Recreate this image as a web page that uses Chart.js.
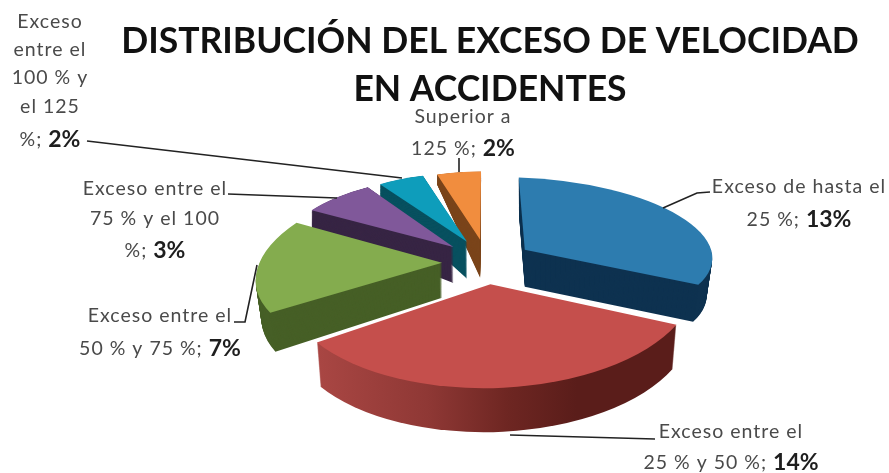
<!DOCTYPE html>
<html><head><meta charset="utf-8">
<style>html,body{margin:0;padding:0;background:#fff}canvas{display:block;filter:blur(.5px)}</style>
<script src="https://cdn.jsdelivr.net/npm/chart.js@4"></script>
</head><body><canvas id="c" width="889" height="473"></canvas>
<script>
const titleLines = ['DISTRIBUCIÓN DEL EXCESO DE VELOCIDAD', 'EN ACCIDENTES'];
const categories = [
  ['Exceso de hasta el', '25 %'],
  ['Exceso entre el', '25 % y 50 %'],
  ['Exceso entre el', '50 % y 75 %'],
  ['Exceso entre el', '75 % y el 100', '%'],
  ['Exceso', 'entre el', '100 % y', 'el 125', '%'],
  ['Superior a', '125 %']
];
const values = [13, 14, 7, 3, 2, 2];
const topColors = ['#2D7CAF', '#C54F4C', '#84AC4E', '#80589A', '#0E9DBB', '#F18D3E'];
const wallColors = ['#0E3250', '#5A1D1A', '#465F26', '#372544', '#07505F', '#7A441A'];

// drawing style tables
const explode = 180;             // Chart.js divides this by 4
const tilt = 0.5;
const shiftX = -3;
const shape = [
  {a:1.03, b:.033, c:.034, d:.396, depth:37, grow:1,    growX:.97},
  {a:1.127,b:-.015,c:-.012,d:.57,  depth:44, grow:1,    growX:.98},
  {a:1.008,b:-.18, c:-.013,d:.484, depth:35, grow:1.08, growX:.97},
  {a:.929, b:-.078,c:.019, d:.388, depth:36, grow:1.5,  growX:1},
  {a:.854, b:-.016,c:.015, d:.376, depth:37, grow:1.37, growX:1},
  {a:.80,  b:-.005,c:.005, d:.374, depth:38, grow:1.43, growX:1}
];
const drawOrder = [5, 4, 3, 0, 2, 1];
const labelStyle = [
  {x:799, y:[187,220]},
  {x:731, y:[432,463]},
  {x:160, y:[316,349]},
  {x:155, y:[189,219,251]},
  {x:50,  y:[22,50,78,107,140]},
  {x:463, y:[117,149]}
];
const leaders = [
  [[663,208],[697,193],[710,192]],
  [[510,435],[655,439]],
  [[257,265],[245,322],[234,322]],
  [[337,198],[228,194]],
  [[402,178],[87,141]],
  [[459,158],[459,172]]
];

const pie3d = {
  id: 'pie3d',
  beforeDatasetDraw(chart) {
    const ctx = chart.ctx, els = chart.getDatasetMeta(0).data;
    const grad = ctx.createLinearGradient(els[0].x - 180, 0, els[0].x + 180, 0);
    grad.addColorStop(0, '#B04A47'); grad.addColorStop(.35, '#8F3835');
    grad.addColorStop(.55, '#6E2622'); grad.addColorStop(.72, '#5A1D1A'); grad.addColorStop(1, '#5A1D1A');
    for (const i of drawOrder) {
      const el = els[i], s = shape[i];
      const mid = (el.startAngle + el.endAngle) / 2, off = el.options.offset / 4;
      const ax = el.x + shiftX + Math.cos(mid) * off, ay = el.y + Math.sin(mid) * off * tilt;
      const paint = (drop, g, gx, color) => {
        const p = Object.create(el);
        p.options = Object.assign({}, el.options, {offset: 0, backgroundColor: color, borderWidth: 0});
        ctx.save();
        ctx.translate(ax, ay + drop);
        ctx.transform(s.a * gx, s.c * g, s.b * gx, s.d * g, 0, 0);
        ctx.translate(-el.x, -el.y);
        p.draw(ctx);
        ctx.restore();
      };
      const wall = i === 1 ? grad : wallColors[i];
      for (let k = s.depth; k >= 1; k--) {
        const t = k / s.depth;
        paint(k, 1 + (s.grow - 1) * t, 1 + (s.growX - 1) * t, wall);
      }
      paint(0, 1, 1, topColors[i]);
    }
    return false;
  },
  afterDatasetsDraw(chart) {
    const ctx = chart.ctx;
    ctx.save();
    ctx.strokeStyle = '#222'; ctx.lineWidth = 1.6;
    for (const l of leaders) {
      ctx.beginPath();
      l.forEach((p, i) => i ? ctx.lineTo(p[0], p[1]) : ctx.moveTo(p[0], p[1]));
      ctx.stroke();
    }
    ctx.textBaseline = 'middle';
    const reg = '19.5px Lato', bold = 'bold 23px Lato';
    categories.forEach((lines, i) => {
      const st = labelStyle[i];
      lines.forEach((ln, j) => {
        const last = j === lines.length - 1;
        const a = last ? ln + '; ' : ln, b = last ? values[i] + '%' : '';
        ctx.letterSpacing = '1px';
        ctx.font = reg; const wa = ctx.measureText(a).width;
        ctx.letterSpacing = '0px';
        ctx.font = bold; const wb = b ? ctx.measureText(b).width : 0;
        let x = st.x - (wa + wb) / 2;
        ctx.textAlign = 'left';
        ctx.letterSpacing = '1px';
        ctx.font = reg; ctx.fillStyle = '#4a4a4a'; ctx.fillText(a, x, st.y[j]);
        ctx.letterSpacing = '0px';
        if (b) { ctx.font = bold; ctx.fillStyle = '#1e1e1e'; ctx.fillText(b, x + wa, st.y[j]); }
      });
    });
    ctx.restore();
  }
};

new Chart(document.getElementById('c'), {
  type: 'pie',
  data: {
    labels: categories,
    datasets: [{data: values, backgroundColor: topColors, borderWidth: 0, offset: explode}]
  },
  plugins: [pie3d],
  options: {
    responsive: false,
    animation: false,
    radius: 182,
    layout: {padding: {left: 110, right: 19, top: 0, bottom: 63}},
    plugins: {
      legend: {display: false},
      tooltip: {enabled: false},
      title: {
        display: true, fullSize: false, text: titleLines, color: '#111',
        font: {family: 'Lato', size: 35.5, weight: 'bold', lineHeight: 1.35},
        padding: {top: 18, bottom: 0}
      }
    }
  }
});
</script></body></html>
